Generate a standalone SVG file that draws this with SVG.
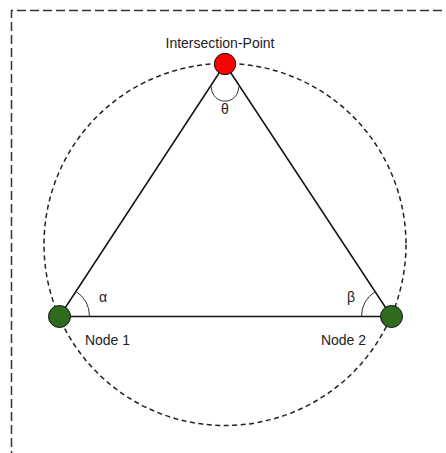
<svg xmlns="http://www.w3.org/2000/svg" width="446" height="453" viewBox="0 0 446 453">
<style>
text{font-family:"Liberation Sans",Arial,sans-serif;font-size:14px;fill:#222}
.edge{stroke:#111;stroke-width:1.5;fill:none}
.arc{stroke:#333;stroke-width:1;fill:none}
.node{stroke:#111;stroke-width:1}
</style>
<rect width="446" height="453" fill="#fff"/>
<g id="frame"><path d="M11.5,460 V10.5 H460" fill="none" stroke="#333" stroke-width="1.5" stroke-dasharray="9,4"/></g>
<g id="circle"><circle cx="225" cy="244.5" r="181" fill="none" stroke="#222" stroke-width="1.5" stroke-dasharray="5,3.5"/></g>
<g id="connectors">
<line class="edge" x1="225" y1="64" x2="59.5" y2="316.5"/>
<line class="edge" x1="225" y1="64" x2="391.5" y2="316.5"/>
<line class="edge" x1="59.5" y1="316.5" x2="391.5" y2="316.5"/>
<path class="arc" d="M75.9,291.4 A30,30 0 0 1 89.5,316.5"/>
<path class="arc" d="M375.2,291.6 A30,30 0 0 0 361.5,316.5"/>
<path class="arc" d="M211.2,86.7 C212,106 238,106 238.8,86.7"/>
</g>
<g id="intersection">
<circle class="node" cx="225" cy="64" r="10.7" fill="#ff0000"/>
<text x="220" y="48" text-anchor="middle">Intersection-Point</text>
<text x="225" y="114" text-anchor="middle">θ</text>
</g>
<g id="node1">
<circle class="node" cx="59.5" cy="316.5" r="11" fill="#2e6b1e"/>
<text x="107.5" y="345" text-anchor="middle">Node 1</text>
<text x="103" y="302" text-anchor="middle">α</text>
</g>
<g id="node2">
<circle class="node" cx="391.5" cy="316.5" r="11" fill="#2e6b1e"/>
<text x="343.5" y="345" text-anchor="middle">Node 2</text>
<text x="351" y="302" text-anchor="middle">β</text>
</g>
</svg>
